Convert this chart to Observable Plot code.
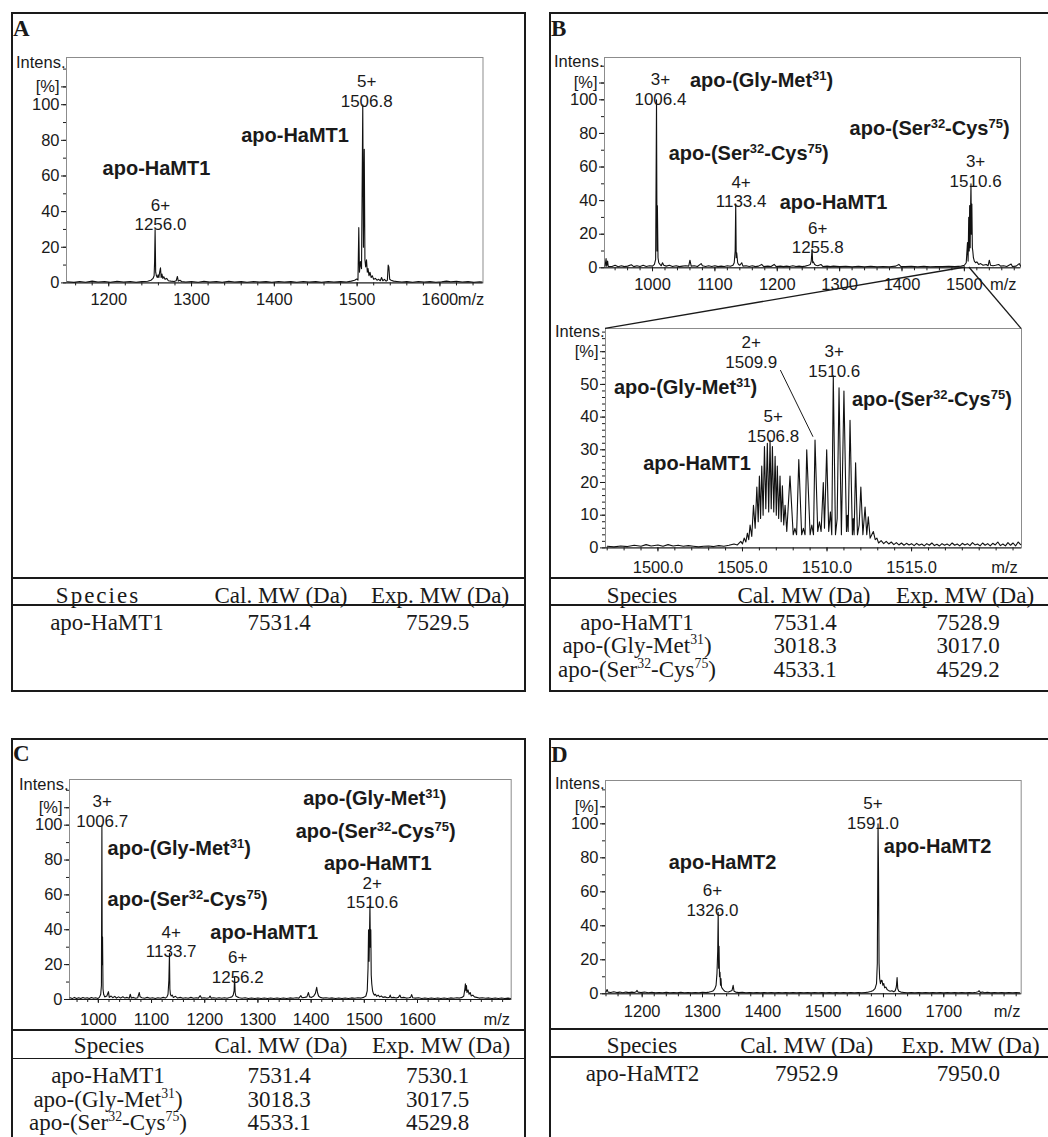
<!DOCTYPE html>
<html><head><meta charset="utf-8">
<script src="https://cdn.jsdelivr.net/npm/d3@7"></script>
<script src="https://cdn.jsdelivr.net/npm/@observablehq/plot@0.6"></script>
<style>
body{margin:0;background:#fff;}
#page{position:relative;width:1048px;height:1137px;overflow:hidden;background:#fff;color:#1a1a1a;font-family:"Liberation Sans",Arial,sans-serif;}
.box{position:absolute;border:2px solid #1a1a1a;box-sizing:border-box;}
.hline{position:absolute;background:#1a1a1a;}
.plabel{position:absolute;font-family:"Liberation Serif","Times New Roman",serif;font-weight:bold;font-size:23px;line-height:1;}
.cell{position:absolute;font-family:"Liberation Serif","Times New Roman",serif;font-size:23px;line-height:1;transform:translate(-50%,-50%);white-space:nowrap;}
.cell sup{font-size:0.6em;line-height:0;vertical-align:0.62em;}
</style></head>
<body><div id="page"></div>
<script>
// ---------------- DATA ----------------
// Spectra: [m/z, relative intensity %]
const spectrumA = [[1150,0.6],[1158,0.3],[1165,0.8],[1172,0.4],[1180,1.0],[1187,0.5],[1195,0.8],[1202,0.4],[1210,0.9],[1218,0.5],[1226,0.8],[1233,0.4],[1240,0.7],[1247,0.9],[1251,1.5],[1253.5,2.5],[1254.8,4],[1255.4,12],[1256.0,30],[1256.7,6],[1257.6,4],[1258.6,3],[1259.6,4.5],[1260.5,3],[1261.5,6],[1262.5,8.5],[1263.3,3],[1264.3,5],[1265.3,2.5],[1266.5,3.5],[1268,2],[1270,2.5],[1272,1.2],[1275,1],[1279,0.8],[1281.5,1.2],[1282.9,3.6],[1284,1],[1286,1.5],[1288,0.8],[1293,0.5],[1300,0.8],[1308,0.4],[1315,0.9],[1322,0.5],[1330,0.8],[1337,0.4],[1345,0.9],[1352,0.5],[1360,0.7],[1367,0.4],[1375,0.8],[1382,0.5],[1390,0.7],[1397,0.4],[1405,0.8],[1412,0.5],[1420,0.7],[1427,0.4],[1435,0.8],[1442,0.5],[1450,0.7],[1457,0.4],[1465,0.8],[1472,0.5],[1480,0.7],[1487,0.5],[1493,1.0],[1497,1.5],[1499.5,2.2],[1501,1.5],[1502,31],[1502.8,6],[1504,12],[1505.3,8],[1506.8,100],[1507.6,20],[1508.6,75],[1509.4,13],[1510.3,9],[1511.3,13],[1512.3,6],[1513.2,8],[1514.3,4],[1515.5,6],[1517,3],[1518.3,4],[1520,2],[1522,2.5],[1524,1.5],[1526,2],[1528,1.2],[1529.5,3],[1531,1.2],[1533,2],[1535,1],[1536.5,1.5],[1537.5,10],[1538.3,9],[1539.3,2],[1541,1.5],[1544,1],[1548,0.8],[1554,0.5],[1560,0.7],[1567,0.4],[1574,0.8],[1581,0.5],[1588,0.7],[1595,0.4],[1602,0.6],[1608,1.0],[1613,0.6],[1620,0.9],[1627,0.5],[1634,0.7],[1641,0.4],[1648,0.6],[1651,0.5]];

const spectrumBTop = [[924,1],[925.5,5.5],[926.5,1],[928,4],[929,0.8],[935,0.8],[940,1.5],[945,0.6],[950,1.2],[955,0.7],[960,1],[966,1.8],[970,0.7],[975,1.2],[980,0.8],[985,1.5],[990,0.8],[995,1.2],[1000,1],[1003,2],[1005,5],[1006.4,100],[1007.2,10],[1007.8,37],[1008.8,6],[1010,3],[1012,2],[1014,1.2],[1016,3],[1018,1.5],[1022,1],[1027,1.5],[1032,0.8],[1038,1.2],[1043,0.7],[1048,1],[1053,1.2],[1058,1],[1060,4.5],[1062,1],[1067,1.2],[1072,0.8],[1078,2.5],[1080,1.2],[1085,0.8],[1090,1.2],[1095,0.8],[1100,1.2],[1105,0.7],[1110,1],[1115,0.8],[1120,1.2],[1125,0.9],[1129,1.5],[1131,3],[1132.5,10],[1133.4,38],[1134.2,6],[1135,9],[1136.5,3],[1138,2],[1140,1.5],[1143,3],[1145,1],[1150,1.2],[1155,0.8],[1160,1.2],[1165,0.7],[1170,1],[1175,2],[1178,0.8],[1185,1],[1190,0.8],[1195,2],[1198,0.8],[1205,1],[1210,0.7],[1215,1],[1220,0.8],[1225,1.2],[1230,0.8],[1235,1],[1240,0.7],[1245,1],[1250,1.5],[1253,2],[1254.5,4],[1255.8,11],[1256.8,3],[1258,3.5],[1260,2],[1262,1.5],[1265,1.2],[1270,2],[1273,0.8],[1280,1],[1285,0.7],[1290,1],[1300,0.7],[1310,0.9],[1320,0.6],[1330,0.9],[1340,0.6],[1350,0.9],[1360,0.6],[1370,0.8],[1380,0.6],[1390,1],[1395,2],[1398,0.8],[1405,0.7],[1415,0.9],[1425,0.6],[1435,0.9],[1445,0.6],[1455,0.8],[1465,0.7],[1475,0.9],[1485,0.7],[1495,1],[1500,1.5],[1503,3],[1505,15],[1506,4],[1507,30],[1507.8,10],[1508.5,37],[1509.3,12],[1510,36],[1510.6,50],[1511.3,20],[1512,38],[1512.8,12],[1513.5,10],[1514.5,6],[1516,4],[1518,3],[1520,3.5],[1523,2],[1526,2.5],[1530,1.5],[1535,2],[1538,1.2],[1540,4.5],[1542,1.5],[1546,1.2],[1550,1.5],[1555,2],[1558,1],[1563,1.2],[1568,0.8],[1575,2.2],[1577,0.8],[1583,1],[1588,2.5],[1590,1]];

const spectrumBZoom = [[1497.0,0.5],[1497.4,0.3],[1497.8,0.6],[1498.2,0.4],[1498.6,0.8],[1499.0,0.5],[1499.3,1.0],[1499.6,0.6],[1500.0,0.9],[1500.3,0.5],[1500.6,1.0],[1500.9,0.6],[1501.2,0.8],[1501.5,0.5],[1501.8,0.7],[1502.1,0.5],[1502.4,0.3],[1502.7,0.5],[1503.0,0.6],[1503.3,0.4],[1503.6,0.7],[1503.9,0.5],[1504.2,0.8],[1504.5,1.2],[1504.7,0.9],[1504.9,2],[1505.0,1.2],[1505.1,3],[1505.2,1.8],[1505.29,4.5],[1505.37,2.5],[1505.45,7],[1505.55,3.5],[1505.65,13],[1505.75,6],[1505.85,18.6],[1505.93,8],[1506.0,22],[1506.07,9],[1506.14,25],[1506.22,10],[1506.30,31],[1506.38,12],[1506.47,32],[1506.55,11],[1506.63,33],[1506.70,12],[1506.77,31],[1506.85,11],[1506.93,28],[1507.0,10],[1507.06,25],[1507.14,9],[1507.22,22],[1507.29,8],[1507.36,19],[1507.44,7],[1507.52,13],[1507.62,5],[1507.81,22],[1508.0,4],[1508.1,6],[1508.2,4],[1508.33,27],[1508.5,4],[1508.6,6],[1508.7,4],[1508.80,30],[1509.0,4],[1509.1,7],[1509.2,4],[1509.29,33],[1509.45,5],[1509.55,8],[1509.65,5],[1509.78,20],[1509.85,6],[1509.98,30],[1510.1,5],[1510.2,11],[1510.28,4],[1510.37,52.6],[1510.5,4],[1510.6,9],[1510.71,49],[1510.85,4],[1511.0,48],[1511.15,5],[1511.2,10],[1511.25,5],[1511.36,39],[1511.5,4],[1511.55,9],[1511.6,4],[1511.69,26],[1511.8,4],[1511.9,7],[1512.0,18.6],[1512.12,4],[1512.25,12.5],[1512.35,4],[1512.44,9.5],[1512.55,3],[1512.74,5],[1512.85,2.5],[1512.95,3],[1513.05,1.5],[1513.2,2.2],[1513.35,1.3],[1513.5,2],[1513.65,1.2],[1513.8,1.8],[1513.95,1],[1514.1,1.6],[1514.25,0.9],[1514.4,1.5],[1514.55,0.8],[1514.7,1.4],[1514.85,0.9],[1515.0,1.3],[1515.15,0.7],[1515.3,1.4],[1515.45,0.8],[1515.6,1.2],[1515.75,0.6],[1515.9,1.3],[1516.05,0.8],[1516.2,1.5],[1516.35,0.7],[1516.5,1.1],[1516.65,0.6],[1516.8,1.3],[1516.95,0.8],[1517.1,1.2],[1517.25,0.7],[1517.4,1.5],[1517.55,0.8],[1517.7,1.2],[1517.85,0.6],[1518.0,1.4],[1518.15,0.9],[1518.3,1.3],[1518.45,0.7],[1518.6,1.6],[1518.75,0.9],[1518.9,1.2],[1519.05,0.6],[1519.2,1.5],[1519.35,0.8],[1519.5,1.3],[1519.65,0.6],[1519.8,1.4],[1519.95,0.9],[1520.1,1.8],[1520.25,0.7],[1520.4,1.2],[1520.55,0.6],[1520.7,1.6],[1520.85,0.8],[1521.0,1.5],[1521.15,0.6],[1521.3,1.8],[1521.45,1.0]];

const spectrumC = [[947,1],[951,0.5],[955,1.2],[959,0.6],[963,1],[967,0.5],[971,1.1],[975,0.7],[979,1],[983,0.5],[987,1.1],[991,0.7],[995,1],[999,0.6],[1002,1.2],[1004.5,3],[1005.8,8],[1006.7,100],[1007.3,20],[1007.9,36],[1008.8,6],[1010,3],[1012,1.5],[1016,2],[1019,4.5],[1020.5,1.2],[1024,2],[1027,1],[1031,1.8],[1034,0.8],[1038,1.5],[1042,0.8],[1046,1.6],[1050,0.8],[1054,1.2],[1058,0.7],[1060,3],[1062,0.8],[1066,1.2],[1070,0.7],[1074,1],[1077,4],[1078.5,1.5],[1082,1],[1087,0.7],[1092,1.2],[1097,0.7],[1102,1],[1107,0.6],[1112,1],[1117,0.7],[1122,1.2],[1126,0.8],[1129,1.5],[1131,3],[1132.6,11],[1133.7,26.5],[1134.5,6],[1135.5,3],[1137,2],[1139,2.5],[1141,1.2],[1145,1.8],[1149,0.8],[1154,1.2],[1159,0.7],[1164,1],[1169,0.7],[1174,1.2],[1179,0.7],[1184,1],[1188,0.8],[1191.5,2.2],[1194,0.8],[1199,1],[1204,0.7],[1208,1],[1210,2],[1212,0.8],[1217,1],[1222,0.7],[1227,1],[1232,0.7],[1237,1],[1242,0.7],[1247,1.1],[1251,1.5],[1253.5,2.5],[1255.2,5],[1256.2,12.8],[1257.2,4],[1258.5,2],[1261,1.5],[1265,1],[1270,0.7],[1276,1],[1282,0.6],[1288,0.9],[1294,0.6],[1300,0.9],[1306,0.6],[1312,0.9],[1318,0.6],[1324,0.9],[1330,0.6],[1336,0.9],[1342,0.6],[1348,0.9],[1354,0.6],[1360,0.9],[1366,0.7],[1372,1],[1377,0.8],[1380.8,2.2],[1383,1],[1388,1.2],[1392,1.5],[1395,4],[1397,1.5],[1401,1.2],[1405,2],[1408,3.5],[1410.5,7],[1412,4],[1414,2],[1417,1.2],[1422,0.8],[1428,1],[1434,0.7],[1440,0.9],[1446,0.6],[1452,0.9],[1458,0.6],[1464,0.9],[1470,0.6],[1476,0.9],[1482,0.7],[1488,1],[1494,0.8],[1499,1.2],[1503,2],[1505.5,5],[1507,18],[1508,40],[1509,22],[1509.8,38],[1510.6,54],[1511.4,30],[1512.2,40],[1513,14],[1514,9],[1515.5,5],[1517,3.5],[1519,2.5],[1521,3],[1523,1.8],[1526,2.5],[1529,1.5],[1532,2],[1535,1.2],[1539,1.5],[1543,1],[1547,1.2],[1548.7,2.5],[1550.5,1],[1555,1.2],[1560,0.8],[1564,1.2],[1567,2.5],[1569,1],[1574,1.2],[1579,0.8],[1584,1],[1587,1.2],[1589,2.8],[1591,1],[1596,0.8],[1602,1],[1608,0.6],[1614,0.9],[1620,0.6],[1626,0.9],[1632,0.6],[1638,0.9],[1644,0.6],[1650,0.9],[1656,0.6],[1662,0.9],[1668,0.7],[1674,1],[1679,0.8],[1684,1.2],[1687,2],[1689,6],[1690,9],[1691,5],[1692,8],[1693,4],[1695,5.5],[1697,3],[1699,4],[1701,2],[1704,2.5],[1707,1.5],[1711,1.2],[1716,0.8],[1722,1],[1728,0.7],[1734,0.9],[1740,0.6],[1746,0.9],[1752,0.6],[1758,0.9],[1764,0.6],[1770,0.8],[1775,0.6]];

const spectrumD = [[1140,1],[1141.8,2.5],[1143.5,1],[1148,0.8],[1153,1.2],[1158,0.7],[1163,1],[1168,0.6],[1173,1],[1178,0.7],[1183,1],[1187,0.8],[1190,1.2],[1191.5,2],[1193,1],[1198,0.8],[1204,1],[1210,0.6],[1216,0.9],[1222,0.6],[1228,0.8],[1234,0.6],[1240,0.9],[1246,0.6],[1252,0.8],[1258,0.6],[1264,0.9],[1270,0.6],[1276,0.8],[1282,0.6],[1288,0.8],[1294,0.6],[1300,0.9],[1306,0.7],[1311,1],[1315,1.3],[1318,1.8],[1320.5,3],[1322.5,5],[1324,12],[1325.2,25],[1326.0,48],[1326.7,15],[1327.4,28],[1328.2,10],[1329,12.7],[1329.8,5],[1330.6,9],[1331.5,4],[1333,3],[1335,2.2],[1337,1.5],[1340,1.2],[1343,1],[1346,1.5],[1349,2],[1350.8,5],[1352.3,1.5],[1355,1],[1360,0.7],[1366,0.9],[1372,0.6],[1378,0.8],[1384,0.6],[1390,0.8],[1396,0.6],[1402,0.8],[1408,0.6],[1414,0.8],[1420,0.6],[1426,0.8],[1432,0.6],[1438,0.8],[1444,0.6],[1450,0.8],[1456,0.6],[1462,0.8],[1468,0.6],[1474,0.8],[1480,0.6],[1486,0.8],[1492,0.6],[1498,0.8],[1504,0.6],[1510,0.8],[1516,0.6],[1522,0.8],[1528,0.6],[1534,0.8],[1540,0.6],[1546,0.8],[1552,0.6],[1558,0.8],[1564,0.6],[1570,0.8],[1575,1],[1579,1.3],[1583,2],[1586,3],[1588.5,6],[1589.8,18],[1591.0,100],[1591.8,72.5],[1592.7,18],[1593.7,9],[1595,6],[1596.5,8],[1597.7,7.8],[1599,5],[1600.5,6],[1602,3.5],[1604,4],[1606,2.5],[1608,2],[1611,1.5],[1614,1.8],[1617,1.2],[1619.5,1.8],[1621.3,4],[1622.6,9.5],[1623.7,3],[1625.5,1.5],[1629,1],[1634,0.8],[1640,0.6],[1646,0.8],[1652,0.6],[1658,0.8],[1664,0.6],[1670,0.8],[1676,0.6],[1682,0.8],[1688,0.6],[1694,0.8],[1700,0.6],[1706,0.8],[1712,0.6],[1718,0.8],[1724,0.6],[1730,0.8],[1736,0.6],[1742,0.8],[1748,0.6],[1754,0.9],[1757,1.2],[1758.6,1.8],[1760.5,0.8],[1764,1],[1768,0.6],[1772,0.9],[1778,0.6],[1784,0.8],[1790,0.6],[1796,0.8],[1802,0.6],[1808,0.8],[1814,0.6],[1820,0.8],[1826,0.6]];

// Axis tick labels
const xTicksA = [1200,1300,1400,1500,1600];
const xTicksBTop = [1000,1100,1200,1300,1400,1500];
const xTicksBZoom = [1500,1505,1510,1515];
const xTicksC = [1000,1100,1200,1300,1400,1500,1600];
const xTicksD = [1200,1300,1400,1500,1600,1700];
const yTicksMain = [0,20,40,60,80,100,110];
const yTicksZoom = [0,10,20,30,40,50,60];

// Peak annotations (charge state + m/z), anchored in data units
const peaksA = [{label:"5+\n1506.8", mz:1511.5, at:107.7},{label:"6+\n1256.0", mz:1262.4, at:38.6}];
const peaksBTop = [{label:"3+\n1006.4", mz:1012.7, at:106.5},{label:"4+\n1133.4", mz:1142, at:45.7},{label:"6+\n1255.8", mz:1264.8, at:18.1},{label:"3+\n1510.6", mz:1518, at:57.7}];
const peaksBZoom = [{label:"2+\n1509.9", mz:1505.52, at:60},{label:"3+\n1510.6", mz:1510.43, at:57.2},{label:"5+\n1506.8", mz:1506.82, at:37.3}];
const peaksC = [{label:"3+\n1006.7", mz:1007.3, at:108.2},{label:"4+\n1133.7", mz:1137, at:33.4},{label:"6+\n1256.2", mz:1262, at:18.8},{label:"2+\n1510.6", mz:1515, at:61.6}];
const peaksD = [{label:"5+\n1591.0", mz:1582.6, at:106.5},{label:"6+\n1326.0", mz:1316.4, at:55.4}];

// Species labels (left edge m/z, centre intensity)
const speciesA = [{label:"apo-HaMT1", mz:1360, at:82.9},{label:"apo-HaMT1", mz:1192.6, at:64}];
const speciesBTop = [{label:"apo-(Gly-Met^31)", mz:1060, at:111.5},{label:"apo-(Ser^32-Cys^75)", mz:1316, at:82.7},{label:"apo-(Ser^32-Cys^75)", mz:1026, at:67.8},{label:"apo-HaMT1", mz:1204, at:38.9}];
const speciesBZoom = [{label:"apo-(Gly-Met^31)", mz:1497.4, at:49},{label:"apo-(Ser^32-Cys^75)", mz:1511.47, at:45.4},{label:"apo-HaMT1", mz:1499.13, at:25.8}];
const speciesC = [{label:"apo-(Gly-Met^31)", mz:1017.4, at:86.4},{label:"apo-(Ser^32-Cys^75)", mz:1017.4, at:57.1},{label:"apo-HaMT1", mz:1210.5, at:38.6},{label:"apo-(Gly-Met^31)", mz:1385, at:115.1},{label:"apo-(Ser^32-Cys^75)", mz:1371, at:96.5},{label:"apo-HaMT1", mz:1424, at:77.7}];
const speciesD = [{label:"apo-HaMT2", mz:1600.5, at:86.6},{label:"apo-HaMT2", mz:1244, at:77.4}];
const leaderBZoom = [{x1:1507.24, y1:54.4, x2:1509.17, y2:34}];
const zoomSource = [1502, 1508]; // m/z span of the top B spectrum expanded in the inset

// Tables
const tableHeader = ["Species","Cal. MW (Da)","Exp. MW (Da)"];
const speciesColA = ["apo-HaMT1"], calColA = ["7531.4"], expColA = ["7529.5"];
const speciesColB = ["apo-HaMT1","apo-(Gly-Met^31)","apo-(Ser^32-Cys^75)"], calColB = ["7531.4","3018.3","4533.1"], expColB = ["7528.9","3017.0","4529.2"];
const speciesColC = ["apo-HaMT1","apo-(Gly-Met^31)","apo-(Ser^32-Cys^75)"], calColC = ["7531.4","3018.3","4533.1"], expColC = ["7530.1","3017.5","4529.8"];
const speciesColD = ["apo-HaMT2"], calColD = ["7952.9"], expColD = ["7950.0"];

// ---------------- LAYOUT ----------------
const page = document.getElementById("page");
const M = {l:62, t:16, r:46, b:42};
const NS = "http://www.w3.org/2000/svg";

function applySup(svg, supSize, shift){
  svg.querySelectorAll("text").forEach(t => {
    if (!t.textContent.includes("^") || t.querySelector("tspan")) return;
    const parts = t.textContent.split(/\^(\d+)/);
    t.textContent = "";
    parts.forEach((p,i) => {
      if (!p) return;
      const ts = document.createElementNS(NS,"tspan");
      ts.textContent = p;
      if (i % 2 === 1) { ts.setAttribute("font-size", supSize); ts.setAttribute("dy", -shift); }
      else if (i > 0) ts.setAttribute("dy", shift);
      t.appendChild(ts);
    });
  });
}

function spectrum(cfg){
  const [fl, ft, fr, fb] = cfg.frame;
  const fig = Plot.plot({
    width: fr - fl + M.l + M.r, height: fb - ft + M.t + M.b,
    marginLeft: M.l, marginRight: M.r, marginTop: M.t, marginBottom: M.b,
    x: {domain: cfg.xDomain}, y: {domain: cfg.yDomain},
    style: {background: "transparent", color: "#1a1a1a", fontFamily: "'Liberation Sans', Arial, sans-serif", fontSize: "16.5px", overflow: "visible"},
    marks: [
      Plot.frame({stroke: "#8c8c8c", strokeWidth: 1}),
      Plot.axisX(cfg.xMinor, {tickSize: 3, tickFormat: () => "", label: null}),
      Plot.axisX(cfg.xTicks, {tickSize: 4, tickPadding: cfg.xPad, tickFormat: cfg.xFormat || (d => String(d)), label: null}),
      Plot.axisY(cfg.yMinor, {tickSize: 3, tickFormat: () => "", label: null}),
      Plot.axisY(cfg.yTicks, {tickSize: 5, tickPadding: 2, tickFormat: d => d === cfg.pctTick ? "[%]" : String(d), label: null}),
      Plot.text([{t: "Intens.", v: cfg.intensAt}], {frameAnchor: "left", y: "v", text: "t", textAnchor: "end", dx: -1}),
      Plot.text([{t: "m/z", x: cfg.mzAt, v: 0}], {x: "x", y: "v", text: "t", lineAnchor: "top", dy: 4 + cfg.xPad, textAnchor: cfg.mzAnchor || "middle"}),
      Plot.ruleY([0], {stroke: "#1a1a1a", strokeWidth: 1}),
      Plot.line(cfg.data, {x: d => d[0], y: d => d[1], stroke: "#111", strokeWidth: 1.1}),
      Plot.link(cfg.links || [], {x1: "x1", y1: "y1", x2: "x2", y2: "y2", stroke: "#1a1a1a", strokeWidth: 1}),
      Plot.text(cfg.peaks, {x: "mz", y: "at", text: "label", fontSize: 17, lineHeight: 1.15, lineAnchor: "middle", fill: "#1a1a1a"}),
      Plot.text(cfg.species, {x: "mz", y: "at", text: "label", textAnchor: "start", fontSize: 20, fontWeight: "bold", fill: "#1a1a1a"})
    ]
  });
  applySup(fig, 13, 7);
  fig.style.position = "absolute";
  fig.style.left = (fl - M.l) + "px";
  fig.style.top = (ft - M.t) + "px";
  fig.style.maxWidth = "none";
  page.appendChild(fig);
  fig._left = fl - M.l; fig._top = ft - M.t;
  return fig;
}

function div(cls, css, html){
  const d = document.createElement("div");
  d.className = cls;
  Object.assign(d.style, css);
  if (html !== undefined) d.innerHTML = html;
  page.appendChild(d);
  return d;
}
const supHtml = s => s.replace(/\^(\d+)/g, "<sup>$1</sup>");

// Panel boxes and letters
[[11,12,515,680],[549,12,510,680],[11,738,515,420],[549,738,510,420]].forEach(([l,t,w,h]) =>
  div("box", {left:l+"px", top:t+"px", width:w+"px", height:h+"px"}));
[["A",13,17],["B",551,17],["C",13,741.5],["D",551,742.5]].forEach(([s,l,t]) =>
  div("plabel", {left:l+"px", top:t+"px"}, s));

// Spectra
spectrum({frame:[65.9,57.4,482.4,282.8], xDomain:[1149,1652], yDomain:[0,126.5], data:spectrumA,
  xTicks:xTicksA, xMinor:d3.range(1160,1652,20), yTicks:yTicksMain, yMinor:d3.range(0,121,10), pctTick:110,
  xPad:6, intensAt:123.5, mzAt:1621.5, mzAnchor:"start", peaks:peaksA, species:speciesA});

const bTop = spectrum({frame:[604,56.7,1020,267], xDomain:[923,1590], yDomain:[0,125.2], data:spectrumBTop,
  xTicks:xTicksBTop, xMinor:d3.range(940,1590,20), yTicks:yTicksMain, yMinor:d3.range(0,121,10), pctTick:110,
  xPad:6, intensAt:122.5, mzAt:1562.4, peaks:peaksBTop, species:speciesBTop});

const bZoom = spectrum({frame:[605,328.3,1021,547.7], xDomain:[1496.9,1521.5], yDomain:[0,67.1], data:spectrumBZoom,
  xTicks:xTicksBZoom, xMinor:d3.range(1497,1522,1), xFormat:d => d.toFixed(1), yTicks:yTicksZoom, yMinor:d3.range(0,67,2), pctTick:60,
  xPad:9, intensAt:66, mzAt:1520.5, peaks:peaksBZoom, species:speciesBZoom, links:leaderBZoom});

spectrum({frame:[69.3,779,511,999], xDomain:[945.8,1776.1], yDomain:[0,126.2], data:spectrumC,
  xTicks:xTicksC, xMinor:d3.range(960,1776,20), yTicks:yTicksMain, yMinor:d3.range(0,121,10), pctTick:110,
  xPad:10, intensAt:123.4, mzAt:1749, peaks:peaksC, species:speciesC});

spectrum({frame:[605,780,1020.7,993.3], xDomain:[1139.2,1828.3], yDomain:[0,125.5], data:spectrumD,
  xTicks:xTicksD, xMinor:d3.range(1140,1828,20), yTicks:yTicksMain, yMinor:d3.range(0,121,10), pctTick:110,
  xPad:7, intensAt:123.4, mzAt:1805, peaks:peaksD, species:speciesD});

// Zoom connector lines (top B spectrum -> inset frame corners), from the scales
{
  const ov = document.createElementNS(NS, "svg");
  ov.setAttribute("width", 1048); ov.setAttribute("height", 1137);
  Object.assign(ov.style, {position:"absolute", left:"0px", top:"0px", pointerEvents:"none"});
  const tx = bTop.scale("x"), ty = bTop.scale("y"), zx = bZoom.scale("x"), zy = bZoom.scale("y");
  const zd = zx.domain, yd = zy.domain;
  const y0 = bTop._top + ty.apply(0);
  const yTopInset = bZoom._top + zy.apply(yd[1]);
  [[zoomSource[0], zd[0]], [zoomSource[1], zd[1]]].forEach(([src, dst]) => {
    const ln = document.createElementNS(NS, "line");
    ln.setAttribute("x1", bTop._left + tx.apply(src)); ln.setAttribute("y1", y0);
    ln.setAttribute("x2", bZoom._left + zx.apply(dst)); ln.setAttribute("y2", yTopInset);
    ln.setAttribute("stroke", "#1a1a1a"); ln.setAttribute("stroke-width", 1.3);
    ov.appendChild(ln);
  });
  page.appendChild(ov);
}

// Tables
function table(cfg){
  div("hline", {left:cfg.x0+"px", top:cfg.lines[0]+"px", width:cfg.w+"px", height:"2px"});
  div("hline", {left:cfg.x0+"px", top:cfg.lines[1]+"px", width:cfg.w+"px", height:"1.5px"});
  tableHeader.forEach((h,i) => {
    const d = div("cell", {left:cfg.hx[i]+"px", top:cfg.hy+"px"}, h);
    if (i === 0 && cfg.spread) d.style.letterSpacing = cfg.spread + "px";
  });
  cfg.cols.forEach((col, ci) => col.forEach((v, ri) =>
    div("cell", {left:cfg.dx[ci]+"px", top:cfg.rows[ri]+"px"}, supHtml(v))));
}
table({x0:11, w:515, lines:[576.5,604], hx:[98,281,440], hy:595.3, dx:[107,279,437.5], rows:[622.4], cols:[speciesColA,calColA,expColA], spread:2});
table({x0:549, w:499, lines:[576.5,604], hx:[642,804,965], hy:595, dx:[637,805,968], rows:[621.5,645,668.5], cols:[speciesColB,calColB,expColB]});
table({x0:11, w:515, lines:[1028.5,1057.5], hx:[109,281,441], hy:1044.5, dx:[108,279,437.5], rows:[1074.9,1098.5,1122.2], cols:[speciesColC,calColC,expColC]});
table({x0:549, w:499, lines:[1027.5,1056], hx:[642,806.7,970.7], hy:1045, dx:[642.5,806.7,968.3], rows:[1073.3], cols:[speciesColD,calColD,expColD]});
</script>
</body></html>
